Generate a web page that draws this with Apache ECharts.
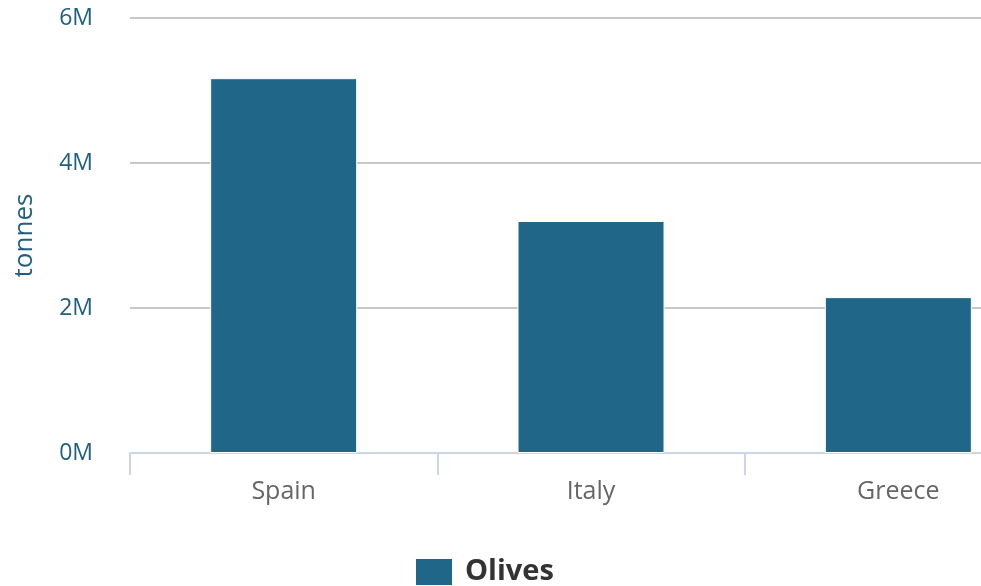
<!DOCTYPE html>
<html>
<head>
<meta charset="utf-8">
<script src="https://cdn.jsdelivr.net/npm/echarts@6/dist/echarts.min.js"></script>
<style>
html,body{margin:0;padding:0;background:#fff;overflow:hidden;}
#chart{width:981px;height:586px;}
</style>
</head>
<body>
<div id="chart"></div>
<script>
var categories = ['Spain', 'Italy', 'Greece'];
var olives = [5170000, 3200000, 2150000];
var yTicks = [0, 2000000, 4000000, 6000000];

var chart = echarts.init(document.getElementById('chart'), null, {renderer: 'canvas'});
chart.setOption({
  animation: false,
  textStyle: {fontFamily: '"Open Sans", "Noto Sans", sans-serif'},
  grid: {left: 130, top: 18, height: 435, width: 922, containLabel: false, outerBoundsMode: 'none'},
  legend: {
    data: ['Olives'],
    left: 414, top: 557, padding: 0,
    itemWidth: 38, itemHeight: 28, itemGap: 12,
    icon: 'rect',
    textStyle: {fontSize: 29, fontWeight: 'bold', color: '#333', padding: [0, 0, 0, 7], fontFamily: '"Open Sans", sans-serif'}
  },
  xAxis: {
    type: 'category',
    data: categories,
    axisLine: {show: true, lineStyle: {color: '#ccd6eb', width: 2}},
    axisTick: {show: true, length: 22, lineStyle: {color: '#ccd6eb', width: 2}},
    axisLabel: {fontSize: 25, color: '#666', margin: 26}
  },
  yAxis: {
    type: 'value',
    min: yTicks[0], max: yTicks[yTicks.length - 1], interval: 2000000,
    name: 'tonnes',
    nameLocation: 'middle',
    nameGap: 92,
    nameRotate: 90,
    nameTextStyle: {fontSize: 26, color: '#1f6080'},
    axisLine: {show: false},
    axisTick: {show: false},
    splitLine: {lineStyle: {color: '#c8c8c8', width: 2}},
    axisLabel: {
      fontSize: 23, color: '#1f6080', margin: 37,
      formatter: function (v) { return (v / 1000000) + 'M'; }
    }
  },
  series: [{
    name: 'Olives',
    type: 'bar',
    data: olives,
    barWidth: 147,
    itemStyle: {color: '#1f6688', borderColor: '#fff', borderWidth: 1}
  }]
});
</script>
</body>
</html>
